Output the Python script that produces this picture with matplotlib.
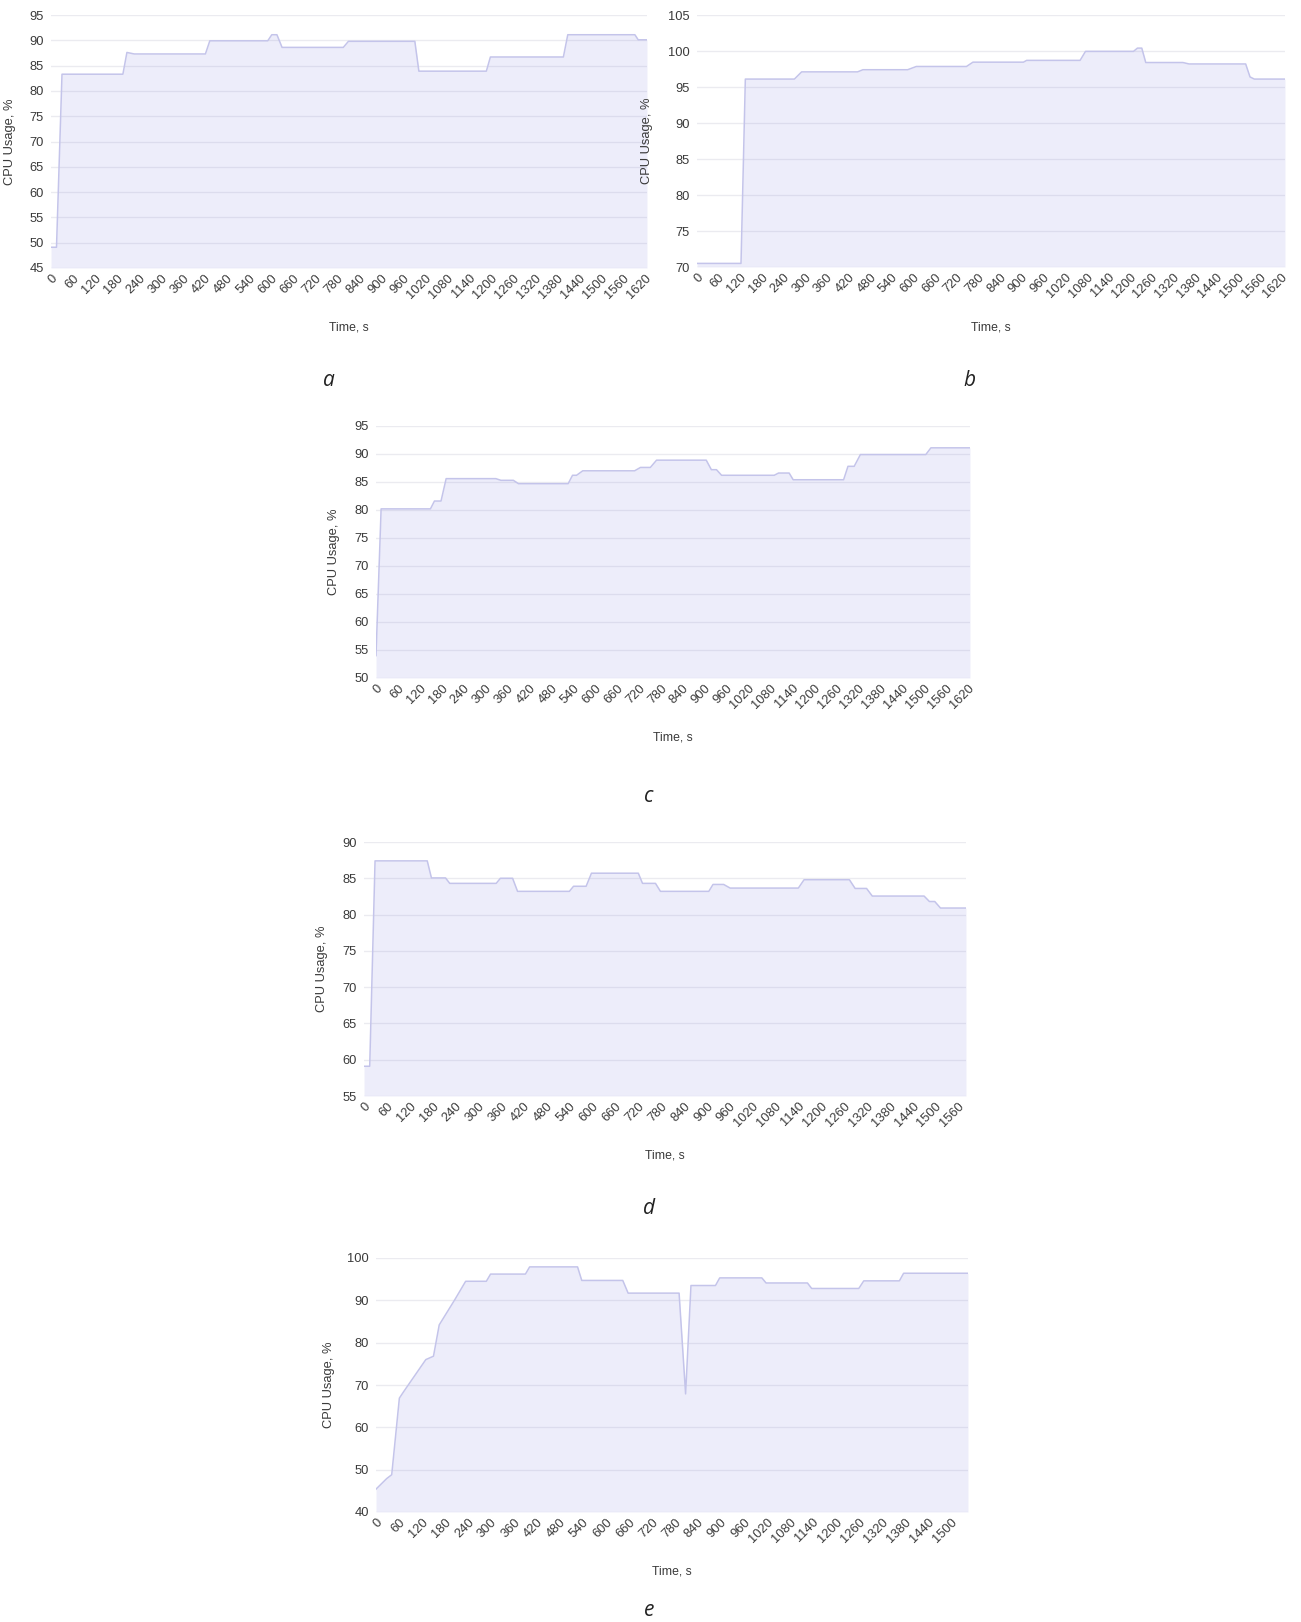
"""Five CPU-usage traces (panels a–e), light area charts with rotated time ticks."""
import numpy as np
import matplotlib
matplotlib.use("Agg")
import matplotlib.pyplot as plt

plt.rcParams["font.family"] = ["Liberation Sans", "DejaVu Sans"]

W, H = 1301, 1622

# ---- data (time s, CPU %) ----
t_a = [0, 15, 30, 196, 207, 227, 421, 433, 591, 602, 616, 630, 797, 811,
       992, 1003, 1187, 1198, 1397, 1409, 1592, 1601, 1625]
cpu_a = [49.1, 49.1, 83.3, 83.3, 87.6, 87.3, 87.3, 89.9, 89.9, 91.1, 91.1, 88.6, 88.6, 89.8,
         89.8, 83.9, 83.9, 86.7, 86.7, 91.1, 91.1, 90.1, 90.1]

t_b = [0, 122, 134, 270, 290, 445, 460, 584, 608, 747, 765, 905, 914, 1062, 1077,
       1210, 1221, 1233, 1244, 1347, 1364, 1521, 1533, 1545, 1630]
cpu_b = [70.5, 70.5, 96.1, 96.1, 97.1, 97.1, 97.4, 97.4, 97.85, 97.85, 98.45, 98.45, 98.7,
         98.7, 99.95, 99.95, 100.4, 100.4, 98.4, 98.4, 98.2, 98.2, 96.4, 96.1, 96.1]

t_c = [0, 14, 149, 160, 178, 192, 328, 342, 376, 390, 526, 538, 549, 566, 708, 724,
       751, 768, 904, 918, 932, 946, 1090, 1102, 1131, 1142, 1280, 1292, 1309, 1326,
       1505, 1519, 1626]
cpu_c = [54.0, 80.2, 80.2, 81.6, 81.6, 85.6, 85.6, 85.3, 85.3, 84.7, 84.7, 86.2, 86.2,
         87.0, 87.0, 87.6, 87.6, 88.9, 88.9, 87.2, 87.2, 86.2, 86.2, 86.6, 86.6, 85.4,
         85.4, 87.8, 87.8, 89.9, 89.9, 91.1, 91.1]

t_d = [0, 15, 29, 166, 177, 214, 225, 347, 358, 390, 403, 539, 550, 583, 597, 720,
       731, 765, 778, 905, 916, 944, 961, 1140, 1155, 1274, 1289, 1319, 1334, 1470,
       1484, 1498, 1513, 1580]
cpu_d = [59.1, 59.1, 87.4, 87.4, 85.05, 85.05, 84.3, 84.3, 85.0, 85.0, 83.2, 83.2, 83.9,
         83.9, 85.7, 85.7, 84.3, 84.3, 83.2, 83.2, 84.15, 84.15, 83.65, 83.65, 84.8,
         84.8, 83.6, 83.6, 82.55, 82.55, 81.8, 81.8, 80.9, 80.9]

t_e = [0, 28, 41, 61, 72, 130, 150, 165, 206, 234, 288, 299, 390, 401, 526, 537, 644,
       658, 791, 808, 822, 886, 897, 1007, 1018, 1126, 1137, 1260, 1273, 1366, 1377, 1545]
cpu_e = [45.4, 47.9, 48.8, 66.9, 68.4, 76.0, 76.8, 84.2, 90.2, 94.5, 94.5, 96.2, 96.2,
         97.9, 97.9, 94.7, 94.7, 91.7, 91.7, 67.9, 93.5, 93.5, 95.3, 95.3, 94.1, 94.1,
         92.8, 92.8, 94.6, 94.6, 96.4, 96.4]

panels = [
    # (t, cpu, box px [left, right, top, bottom], ylim, ystep, xmax, xtick max, letter, letter xy)
    (t_a, cpu_a, (51, 647, 15, 268), (45, 95), 5, 1625, 1620, "a", (329, 380)),
    (t_b, cpu_b, (697, 1285, 15, 267), (70, 105), 5, 1630, 1620, "b", (969, 380)),
    (t_c, cpu_c, (376, 970, 426, 678), (50, 95), 5, 1626, 1620, "c", (649, 796)),
    (t_d, cpu_d, (364, 966, 842, 1096), (55, 90), 5, 1580, 1560, "d", (649, 1208)),
    (t_e, cpu_e, (376, 968, 1258, 1512), (40, 100), 10, 1545, 1500, "e", (649, 1610)),
]
ylabel_x = [16, 653, 340, 328, 335]

LINE = "#c4c4ea"
FILL = "#7070dd"
GRID = "#ebebf0"
TXT = "#3a3a3a"

fig = plt.figure(figsize=(W / 100, H / 100), dpi=100)

for (t, cpu, box, ylim, ystep, xmax, xtmax, letter, lxy), ylx in zip(panels, ylabel_x):
    l, r, top, bot = box
    ax = fig.add_axes([l / W, 1 - bot / H, (r - l) / W, (bot - top) / H])
    ax.fill_between(t, cpu, ylim[0], color=FILL, alpha=0.12, linewidth=0, zorder=2)
    ax.plot(t, cpu, color=LINE, linewidth=1.1, zorder=3)
    ax.set_xlim(0, xmax)
    ax.set_ylim(*ylim)
    ax.set_yticks(np.arange(ylim[0], ylim[1] + 0.1, ystep))
    ax.set_xticks(np.arange(0, xtmax + 1, 60))
    ax.grid(axis="y", color=GRID, linewidth=1.0, zorder=1)
    ax.set_axisbelow(True)
    for s in ax.spines.values():
        s.set_visible(False)
    ax.tick_params(axis="both", length=0, labelsize=9.3, colors=TXT)
    ax.tick_params(axis="y", pad=5)
    ax.tick_params(axis="x", pad=3)
    for lab in ax.get_xticklabels():
        lab.set_rotation(45)
        lab.set_ha("right")
        lab.set_rotation_mode("anchor")
    ax.set_ylabel("CPU Usage, %", fontsize=9.3, color=TXT)
    ax.yaxis.set_label_coords((ylx - l) / (r - l), 0.5)
    ax.set_xlabel("Time, s", fontsize=8.8, color=TXT)
    ax.xaxis.set_label_coords(0.5, -54 / (bot - top))
    fig.text(lxy[0] / W, 1 - lxy[1] / H, letter, fontsize=15, style="italic",
             family=["Open Sans", "DejaVu Sans"], color="#222222",
             ha="center", va="center")

fig.savefig("out.png", dpi=100)
